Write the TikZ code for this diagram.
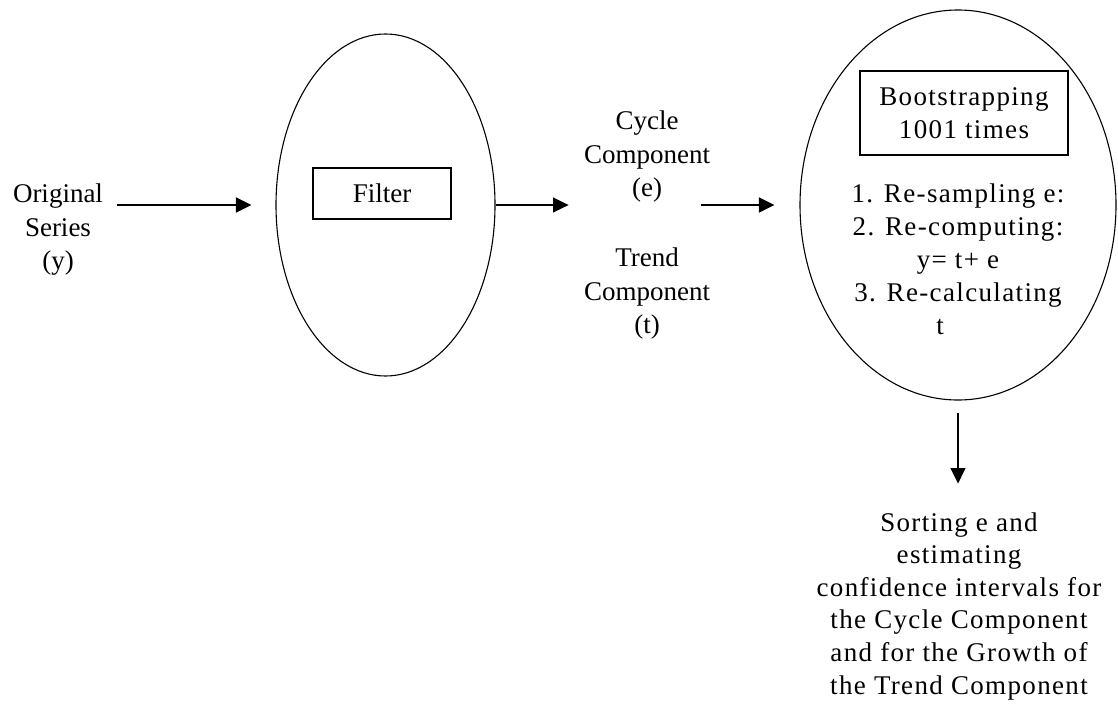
\documentclass[tikz,border=0pt]{standalone}
\usepackage{fontspec}
\setmainfont{Liberation Serif}
\usetikzlibrary{shapes.geometric,arrows.meta}
\begin{document}
\begin{tikzpicture}[x=1pt,y=-1pt,
  txt/.style={font=\fontsize{27pt}{33.5pt}\selectfont, align=center, inner sep=0pt},
  rtxt/.style={font=\fontsize{27pt}{33pt}\selectfont\addfontfeature{LetterSpace=5}, align=center, inner sep=0pt},
  btxt/.style={font=\fontsize{27pt}{32.6pt}\selectfont\addfontfeature{LetterSpace=5}, align=center, inner sep=0pt},
  bubble/.style={draw, ellipse, line width=1.1pt, inner sep=0pt},
  framebox/.style={draw, rectangle, line width=1.3pt, inner sep=0pt},
  arr/.style={-{Triangle[length=15.5pt,width=15pt]}, line width=1.3pt}]
\useasboundingbox (0,0) rectangle (1118,709);
\node[bubble, minimum width=219pt, minimum height=342pt] (filt) at (385.5,205) {};
\node[framebox, txt, minimum width=138pt, minimum height=51pt] (filtbox) at (382,193.5) {Filter};
\node[bubble, minimum width=316pt, minimum height=390pt] (boot) at (958,205) {};
\node[framebox, rtxt, minimum width=208pt, minimum height=84pt] (bootbox) at (964,113) {Bootstrapping\\1001 times};
\node[rtxt] (steps) at (958,259) {1. Re-sampling e:\\2. Re-computing:\\y= t+ e\\3. Re-calculating\\t\hspace*{36pt}};
\node[txt] (orig) at (58,229.7) {Original\\Series\\(y)};
\node[txt] (cyc) at (647,157) {Cycle\\Component\\(e)};
\node[txt] (trend) at (647,294) {Trend\\Component\\(t)};
\node[btxt] (sort) at (959,606) {Sorting e and\\estimating\\confidence intervals for\\the Cycle Component\\and for the Growth of\\the Trend Component};
\draw[arr] ([xshift=-158pt]filt.west) -- ([xshift=-24pt]filt.west);
\draw[arr] (filt.east) -- ([xshift=73pt]filt.east);
\draw[arr] ([xshift=-98pt]boot.west) -- ([xshift=-25pt]boot.west);
\draw[arr] ([yshift=-12pt]boot.south) -- ([yshift=-83pt]boot.south);
\end{tikzpicture}
\end{document}
